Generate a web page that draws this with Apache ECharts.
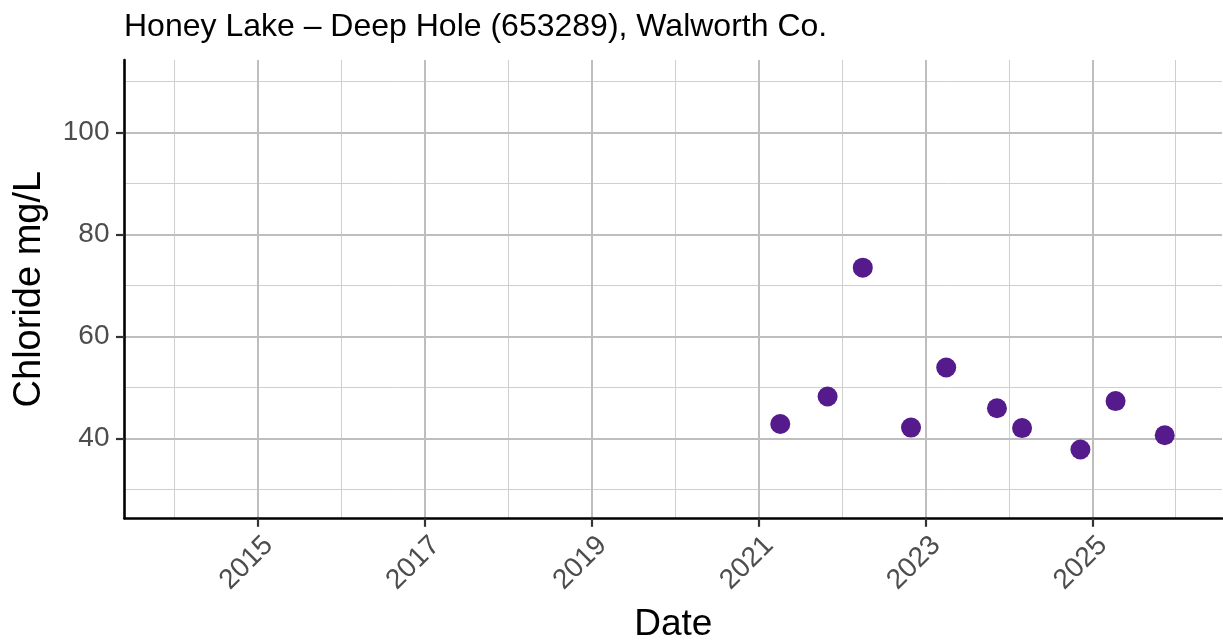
<!DOCTYPE html>
<html>
<head>
<meta charset="utf-8">
<script src="https://cdn.jsdelivr.net/npm/echarts@6/dist/echarts.min.js"></script>
<style>
html,body{margin:0;padding:0;background:#fff;}
#chart{width:1223px;height:644px;}
</style>
</head>
<body>
<div id="chart"></div>
<script>
// ---- data ----
const sampleDates = ['2021-04-06','2021-10-30','2022-04-02','2022-10-30','2023-04-02',
                     '2023-11-10','2024-02-28','2024-11-10','2025-04-13','2025-11-14'];
const chlorideValues = [42.8, 48.2, 73.5, 42.1, 53.9, 45.9, 42.0, 37.8, 47.3, 40.6];
const xMajorTicks = [2015, 2017, 2019, 2021, 2023, 2025];
const xMinorTicks = [2014, 2016, 2018, 2020, 2022, 2024, 2026];
const yMajorTicks = [40, 60, 80, 100];
const yMinorTicks = [30, 50, 70, 90, 110];
const titleText = 'Honey Lake – Deep Hole (653289), Walworth Co.';
const xTitle = 'Date';
const yTitle = 'Chloride mg/L';

function decimalYear(s) {
  const p = s.split('-').map(Number);
  const t = Date.UTC(p[0], p[1] - 1, p[2]);
  const a = Date.UTC(p[0], 0, 1), b = Date.UTC(p[0] + 1, 0, 1);
  return p[0] + (t - a) / (b - a);
}
const points = sampleDates.map((d, i) => [decimalYear(d), chlorideValues[i]]);

const FONT = '"Liberation Sans", Arial, sans-serif';
const X_MIN = 2013.40, X_MAX = 2026.555;
const Y_MIN = 24.29, Y_MAX = 114.27;

const chart = echarts.init(document.getElementById('chart'), null, {renderer: 'canvas'});
chart.setOption({
  animation: false,
  backgroundColor: '#ffffff',
  textStyle: {fontFamily: FONT},
  title: {
    text: titleText,
    left: 119, top: 6,
    textStyle: {fontFamily: FONT, fontSize: 32, fontWeight: 'normal', color: '#000'}
  },
  grid: {left: 124.5, right: 1, top: 60, bottom: 125.7, containLabel: false, outerBoundsMode: 'none'},
  xAxis: [
    {
      type: 'value', min: X_MIN, max: X_MAX, z: 2,
      name: xTitle, nameLocation: 'middle', nameGap: 88,
      nameTextStyle: {fontFamily: FONT, fontSize: 37, color: '#000'},
      axisLine: {show: true, onZero: false, lineStyle: {color: '#000', width: 2.6}},
      axisTick: {show: true, customValues: xMajorTicks, length: 8.5, lineStyle: {color: '#333', width: 2.2}},
      axisLabel: {customValues: xMajorTicks, rotate: 45, margin: 12, verticalAlign: 'top', lineHeight: 30,
                  fontFamily: FONT, fontSize: 28, color: '#4d4d4d',
                  formatter: v => String(Math.round(v))},
      splitLine: {show: true, lineStyle: {color: '#bebebe', width: 2}}
    },
    {
      type: 'value', min: X_MIN, max: X_MAX, z: 1, position: 'bottom',
      axisLine: {show: false}, axisLabel: {show: false},
      axisTick: {show: false, customValues: xMinorTicks},
      splitLine: {show: true, lineStyle: {color: '#cfcfcf', width: 1}}
    }
  ],
  yAxis: [
    {
      type: 'value', min: Y_MIN, max: Y_MAX, z: 2,
      name: yTitle, nameLocation: 'middle', nameGap: 76, nameRotate: 90,
      nameTextStyle: {fontFamily: FONT, fontSize: 38, color: '#000'},
      axisLine: {show: true, onZero: false, lineStyle: {color: '#000', width: 2.6}},
      axisTick: {show: true, customValues: yMajorTicks, length: 8.5, lineStyle: {color: '#333', width: 2.2}},
      axisLabel: {customValues: yMajorTicks, margin: 15, fontFamily: FONT, fontSize: 28, color: '#4d4d4d'},
      splitLine: {show: true, lineStyle: {color: '#bebebe', width: 2}}
    },
    {
      type: 'value', min: Y_MIN, max: Y_MAX, z: 1, position: 'left',
      axisLine: {show: false}, axisLabel: {show: false},
      axisTick: {show: false, customValues: yMinorTicks},
      splitLine: {show: true, lineStyle: {color: '#cfcfcf', width: 1}}
    }
  ],
  series: [{
    type: 'scatter',
    xAxisIndex: 0, yAxisIndex: 0,
    data: points,
    symbol: 'circle',
    symbolSize: 20,
    itemStyle: {color: '#551A8B', opacity: 1},
    z: 5
  }]
});
</script>
</body>
</html>
